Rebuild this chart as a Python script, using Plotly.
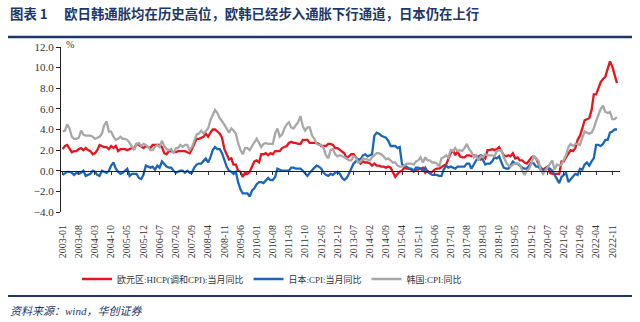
import pandas as pd
import plotly.graph_objects as go

months = pd.date_range("2003-01-01", periods=241, freq="MS")

euro_hicp = [
    2.1, 2.4, 2.5, 2.1, 1.8, 1.9, 1.9, 2.1, 2.2, 2.0, 2.2, 2.0,
    1.9, 1.6, 1.7, 2.0, 2.5, 2.4, 2.3, 2.3, 2.1, 2.4, 2.2, 2.4,
    1.9, 2.1, 2.1, 2.1, 2.0, 2.1, 2.2, 2.2, 2.6, 2.5, 2.3, 2.2,
    2.4, 2.3, 2.2, 2.5, 2.5, 2.5, 2.5, 2.3, 1.7, 1.6, 1.9, 1.9,
    1.8, 1.8, 1.9, 1.9, 1.9, 1.9, 1.8, 1.7, 2.1, 2.6, 3.1, 3.1,
    3.2, 3.3, 3.6, 3.3, 3.7, 4.0, 4.0, 3.8, 3.6, 3.2, 2.1, 1.6,
    1.1, 1.2, 0.6, 0.6, 0.0, -0.1, -0.6, -0.2, -0.3, -0.1, 0.5, 0.9,
    1.0, 0.8, 1.6, 1.6, 1.7, 1.5, 1.7, 1.6, 1.9, 1.9, 1.9, 2.2,
    2.3, 2.4, 2.7, 2.8, 2.7, 2.7, 2.6, 2.6, 3.0, 3.0, 3.0, 2.7,
    2.7, 2.7, 2.7, 2.6, 2.4, 2.4, 2.4, 2.6, 2.6, 2.5, 2.2, 2.2,
    2.0, 1.8, 1.7, 1.2, 1.4, 1.6, 1.6, 1.3, 1.1, 0.7, 0.9, 0.8,
    0.8, 0.7, 0.5, 0.7, 0.5, 0.5, 0.4, 0.4, 0.3, 0.4, 0.3, -0.2,
    -0.6, -0.3, -0.1, 0.0, 0.3, 0.2, 0.2, 0.1, -0.1, 0.1, 0.1, 0.2,
    0.3, -0.2, 0.0, -0.2, -0.1, 0.1, 0.2, 0.2, 0.4, 0.5, 0.6, 1.1,
    1.7, 2.0, 1.5, 1.9, 1.4, 1.3, 1.3, 1.5, 1.5, 1.4, 1.5, 1.4,
    1.3, 1.1, 1.4, 1.2, 2.0, 2.0, 2.1, 2.0, 2.1, 2.3, 1.9, 1.5,
    1.4, 1.5, 1.4, 1.7, 1.2, 1.3, 1.0, 1.0, 0.8, 0.7, 1.0, 1.3,
    1.4, 1.2, 0.7, 0.3, 0.1, 0.3, 0.4, -0.2, -0.3, -0.3, -0.3, -0.3,
    0.9, 0.9, 1.3, 1.6, 2.0, 1.9, 2.2, 3.0, 3.4, 4.1, 4.9, 5.0,
    5.1, 5.9, 7.4, 7.4, 8.1, 8.6, 8.9, 9.1, 9.9, 10.6, 10.1, 9.2,
    8.5,
]

japan_cpi = [
    -0.4, -0.2, -0.1, -0.1, -0.2, -0.4, -0.2, -0.3, -0.2, 0.0, -0.5, -0.4,
    -0.3, 0.0, -0.1, -0.4, -0.5, 0.0, -0.1, -0.2, 0.0, 0.5, 0.8, 0.2,
    -0.1, -0.3, -0.2, 0.0, 0.2, -0.5, -0.3, -0.3, -0.3, -0.7, -0.8, -0.4,
    0.5, 0.4, 0.3, 0.4, 0.1, 0.5, 0.3, 0.9, 0.6, 0.4, 0.3, 0.3,
    0.0, -0.2, -0.1, 0.0, 0.0, -0.2, 0.0, -0.2, -0.2, 0.3, 0.6, 0.7,
    0.7, 1.0, 1.2, 0.8, 1.3, 2.0, 2.3, 2.1, 2.1, 1.7, 1.0, 0.4,
    0.0, -0.1, -0.3, -0.1, -1.1, -1.8, -2.2, -2.2, -2.2, -2.5, -1.9, -1.7,
    -1.3, -1.1, -1.1, -1.2, -0.9, -0.7, -0.9, -0.9, -0.6, 0.2, 0.1, 0.0,
    0.0, 0.0, 0.0, 0.3, 0.3, 0.2, 0.2, 0.2, 0.0, -0.2, -0.5, -0.2,
    0.1, 0.3, 0.5, 0.4, 0.2, -0.2, -0.4, -0.5, -0.3, -0.4, -0.2, -0.1,
    -0.3, -0.7, -0.9, -0.7, -0.3, 0.2, 0.7, 0.9, 1.1, 1.1, 1.5, 1.6,
    1.4, 1.5, 1.6, 3.4, 3.7, 3.6, 3.4, 3.3, 3.2, 2.9, 2.4, 2.4,
    2.4, 2.2, 2.3, 0.6, 0.5, 0.4, 0.2, 0.2, 0.0, 0.3, 0.3, 0.2,
    0.0, 0.3, -0.1, -0.3, -0.4, -0.4, -0.4, -0.5, -0.5, 0.1, 0.5, 0.3,
    0.4, 0.3, 0.2, 0.4, 0.4, 0.4, 0.4, 0.7, 0.7, 0.2, 0.6, 1.0,
    1.4, 1.5, 1.1, 0.6, 0.7, 0.7, 0.9, 1.3, 1.2, 1.4, 0.8, 0.3,
    0.2, 0.2, 0.5, 0.9, 0.7, 0.7, 0.5, 0.3, 0.2, 0.2, 0.5, 0.8,
    0.7, 0.4, 0.4, 0.1, 0.1, 0.1, 0.3, 0.2, 0.0, -0.4, -0.9, -1.2,
    -0.6, -0.4, -0.2, -1.1, -0.8, -0.5, -0.3, -0.4, 0.2, 0.1, 0.6, 0.8,
    0.5, 0.9, 1.2, 2.5, 2.5, 2.4, 2.6, 3.0, 3.0, 3.7, 3.8, 4.0,
    4.0,
]

korea_cpi = [
    3.8, 3.9, 4.5, 4.1, 3.3, 3.1, 3.1, 3.2, 3.9, 3.5, 3.4, 3.4,
    3.4, 3.3, 3.1, 3.2, 3.3, 3.6, 4.4, 4.8, 3.8, 3.8, 3.3, 3.0,
    3.1, 3.3, 3.1, 3.1, 3.0, 2.7, 2.4, 2.0, 2.6, 2.7, 2.4, 2.6,
    2.5, 2.3, 2.0, 2.0, 2.3, 2.5, 2.3, 2.9, 2.4, 2.1, 2.0, 2.1,
    1.7, 2.2, 2.2, 2.5, 2.3, 2.5, 2.5, 2.0, 2.3, 3.0, 3.5, 3.6,
    3.9, 3.6, 3.9, 4.1, 4.9, 5.5, 5.9, 5.6, 5.1, 4.8, 4.5, 4.1,
    3.7, 4.1, 3.9, 3.6, 2.7, 2.0, 1.6, 2.2, 2.2, 2.0, 2.4, 2.8,
    3.1, 2.7, 2.3, 2.6, 2.7, 2.6, 2.6, 2.6, 3.6, 4.1, 3.3, 3.5,
    4.1, 4.5, 4.7, 4.2, 4.1, 4.4, 4.7, 5.3, 4.3, 3.9, 4.2, 4.2,
    3.4, 3.1, 2.6, 2.5, 2.5, 2.2, 1.5, 1.2, 2.0, 2.1, 1.6, 1.4,
    1.5, 1.4, 1.3, 1.2, 1.0, 1.0, 1.4, 1.3, 0.8, 0.9, 1.2, 1.1,
    1.1, 1.0, 1.3, 1.5, 1.7, 1.7, 1.6, 1.4, 1.1, 1.2, 1.0, 0.8,
    0.8, 0.5, 0.4, 0.4, 0.5, 0.7, 0.7, 0.7, 0.6, 0.9, 1.0, 1.3,
    0.8, 1.3, 1.0, 1.0, 0.8, 0.8, 0.7, 0.4, 1.2, 1.3, 1.5, 1.3,
    2.0, 1.9, 2.2, 1.9, 2.0, 1.9, 2.2, 2.6, 2.1, 1.8, 1.3, 1.5,
    1.0, 1.4, 1.3, 1.6, 1.5, 1.5, 1.5, 1.4, 1.9, 2.0, 2.0, 1.3,
    0.8, 0.5, 0.4, 0.6, 0.7, 0.7, 0.6, 0.0, -0.4, 0.0, 0.2, 0.7,
    1.5, 1.1, 1.0, 0.1, -0.3, 0.0, 0.3, 0.7, 1.0, 0.1, 0.6, 0.5,
    0.6, 1.1, 1.5, 2.3, 2.6, 2.4, 2.6, 2.6, 2.5, 3.2, 3.8, 3.7,
    3.6, 3.7, 4.1, 4.8, 5.4, 6.0, 6.3, 5.7, 5.6, 5.7, 5.0, 5.0,
    5.2,
]

tick_labels = [
    "2003-01", "2003-08", "2004-03", "2004-10", "2005-05", "2005-12", "2006-07",
    "2007-02", "2007-09", "2008-04", "2008-11", "2009-06", "2010-01", "2010-08",
    "2011-03", "2011-10", "2012-05", "2012-12", "2013-07", "2014-02", "2014-09",
    "2015-04", "2015-11", "2016-06", "2017-01", "2017-08", "2018-03", "2018-10",
    "2019-05", "2019-12", "2020-07", "2021-02", "2021-09", "2022-04", "2022-11",
]
tick_vals = [t + "-01" for t in tick_labels]

series_names = ["欧元区:HICP(调和CPI):当月同比", "日本:CPI:当月同比", "韩国:CPI:同比"]
series_colors = ["#E5161F", "#1B66B8", "#A8A8A8"]

NAVY = "#1F3766"
SERIF = "Times New Roman, Liberation Serif, Noto Sans CJK SC, serif"
CJK = "Noto Sans CJK SC, sans-serif"

fig = go.Figure()
for name, vals, col in zip(series_names, [euro_hicp, japan_cpi, korea_cpi], series_colors):
    fig.add_trace(go.Scatter(x=months, y=vals, mode="lines", name=name,
                             line=dict(color=col, width=2.3)))

xrange = ["2002-12-10", "2023-02-10"]

# plot area: x 61..620, y 47..212
L, R, T, B = 61, 20, 47, 110
W, H = 640 - L - R, 322 - T - B


def px(x):
    return (x - L) / W


def py(y):
    return (322 - B - y) / H


fig.update_layout(
    width=640, height=322,
    margin=dict(l=L, r=R, t=T, b=B),
    paper_bgcolor="white", plot_bgcolor="white",
    font=dict(family=SERIF, size=10, color="#333333"),
    showlegend=True,
    legend=dict(orientation="h", x=px(77), y=py(279), xanchor="left", yanchor="middle",
                font=dict(family=SERIF, size=9, color="#333333"),
                tracegroupgap=0, itemwidth=30,
                bgcolor="rgba(0,0,0,0)"),
    xaxis=dict(type="date", range=xrange, tickmode="array", tickvals=tick_vals,
               ticktext=tick_labels, tickangle=-90, showgrid=False, showline=False,
               ticks="", zeroline=False, ticklabelstandoff=10,
               tickfont=dict(family=SERIF, size=10, color="#333333")),
    xaxis2=dict(type="date", range=xrange, overlaying="x", anchor="free", position=py(171),
                side="bottom", tickmode="array", tickvals=tick_vals, showticklabels=False,
                ticks="outside", ticklen=3, tickcolor="#333333", showline=True,
                linecolor="#222222", linewidth=1, showgrid=False, zeroline=False),
    yaxis=dict(range=[-4, 12], tickmode="array", tickvals=[-4, -2, 0, 2, 4, 6, 8, 10, 12],
               tickformat=".1f", showgrid=False, zeroline=False, showline=True,
               linecolor="#222222", linewidth=1, ticks="outside", ticklen=4,
               tickcolor="#222222",
               tickfont=dict(family=SERIF, size=11, color="#333333")),
)

# invisible trace on xaxis2 so it renders
fig.add_trace(go.Scatter(x=[months[0]], y=[None], xaxis="x2", showlegend=False,
                         hoverinfo="skip", mode="lines"))

fig.add_annotation(xref="paper", yref="paper", x=px(8), y=py(13), xanchor="left", yanchor="middle",
                   text="<b>图表 1　 欧日韩通胀均在历史高位，欧韩已经步入通胀下行通道，日本仍在上行</b>",
                   showarrow=False, font=dict(family=CJK, size=13.4, color=NAVY))
fig.add_annotation(xref="paper", yref="paper", x=px(64), y=py(45), xanchor="left", yanchor="middle",
                   text="%", showarrow=False, font=dict(family=SERIF, size=10, color="#333333"))
fig.add_annotation(xref="paper", yref="paper", x=px(8), y=py(311), xanchor="left", yanchor="middle",
                   text="<i>资料来源：wind，华创证券</i>", showarrow=False,
                   font=dict(family=SERIF, size=11, color=NAVY))

fig.add_shape(type="line", xref="paper", yref="paper", x0=px(8), x1=px(632), y0=py(37), y1=py(37),
              line=dict(color=NAVY, width=2.5))
fig.add_shape(type="line", xref="paper", yref="paper", x0=px(8), x1=px(632), y0=py(296), y1=py(296),
              line=dict(color=NAVY, width=2))

fig.write_html("out.html")
